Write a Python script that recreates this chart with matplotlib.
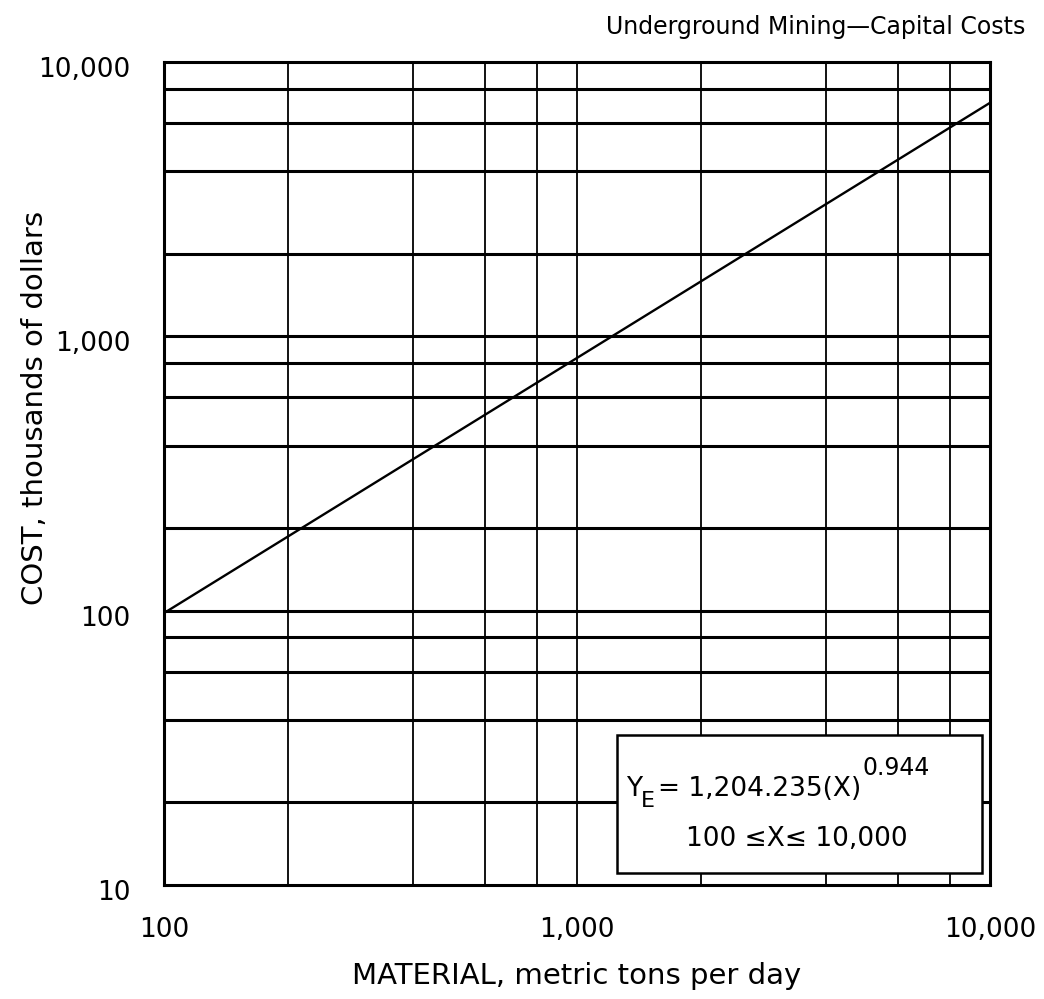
import matplotlib
matplotlib.use('Agg')
import matplotlib.pyplot as plt
import matplotlib.transforms as mtransforms
from matplotlib.ticker import FixedLocator, FixedFormatter, NullFormatter
from matplotlib.patches import Rectangle

# ---- data ----
title = "Underground Mining\u2014Capital Costs"
x_label = "MATERIAL, metric tons per day"
y_label = "COST, thousands of dollars"
x_ticks = [100, 1000, 10000]
x_tick_labels = ["100", "1,000", "10,000"]
y_ticks = [10, 100, 1000, 10000]
y_tick_labels = ["10", "100", "1,000", "10,000"]
x_grid = [200, 400, 600, 800, 1000, 2000, 4000, 6000, 8000]
y_grid = [20, 40, 60, 80, 100, 200, 400, 600, 800, 1000, 2000, 4000, 6000, 8000]
line_x = [100, 10000]
line_y = [98, 7100]
eq_lhs = "Y"
eq_sub = "E"
eq_rhs = "= 1,204.235(X)"
eq_exp = "0.944"
range_text = "100 \u2264X\u2264 10,000"

plt.rcParams['font.family'] = ['DejaVu Sans']

W, H = 1044, 999
fig = plt.figure(figsize=(W / 100, H / 100), dpi=100)
L, R, T, B = 164, 990, 62, 885
ax = fig.add_axes([L / W, 1 - B / H, (R - L) / W, (B - T) / H])
ax.set_xscale('log')
ax.set_yscale('log')
ax.set_xlim(100, 10000)
ax.set_ylim(10, 10000)

ax.xaxis.set_major_locator(FixedLocator(x_ticks))
ax.xaxis.set_major_formatter(FixedFormatter(x_tick_labels))
ax.xaxis.set_minor_locator(FixedLocator(x_grid))
ax.xaxis.set_minor_formatter(NullFormatter())
ax.yaxis.set_major_locator(FixedLocator(y_ticks))
ax.yaxis.set_major_formatter(FixedFormatter(y_tick_labels))
ax.yaxis.set_minor_locator(FixedLocator(y_grid))
ax.yaxis.set_minor_formatter(NullFormatter())
ax.tick_params(which='both', length=0)
ax.tick_params(axis='x', pad=23, labelsize=19)
ax.tick_params(axis='y', pad=24, labelsize=19)

for v in x_grid:
    ax.axvline(v, color='black', lw=1.3, zorder=1)
for v in y_grid:
    ax.axhline(v, color='black', lw=2.2, zorder=1)
for s in ax.spines.values():
    s.set_linewidth(2.2)
    s.set_zorder(5)

ax.plot(line_x, line_y, color='black', lw=1.7, zorder=2)

# equation box
bx0 = (617 - L) / (R - L)
bx1 = (982 - L) / (R - L)
by0 = (B - 873) / (B - T)
by1 = (B - 735) / (B - T)
ax.add_patch(Rectangle((bx0, by0), bx1 - bx0, by1 - by0, transform=ax.transAxes,
                       facecolor='white', edgecolor='black', lw=1.8, zorder=3))

t_y = ax.text((626 - L) / (R - L), (B - 796) / (B - T), eq_lhs, fontsize=19,
              ha='left', va='baseline', transform=ax.transAxes, zorder=4)
t_e = ax.annotate(eq_sub, xy=(1, 0), xycoords=t_y, xytext=(-1, -5),
                  textcoords='offset pixels', fontsize=16, ha='left', va='baseline', zorder=4)
t_m = ax.annotate(eq_rhs, xy=(1, 0), xycoords=t_e, xytext=(3, 15),
                  textcoords='offset pixels', fontsize=19, ha='left', va='baseline', zorder=4)
t_s = ax.annotate(eq_exp, xy=(1, 1), xycoords=t_m, xytext=(1, 1),
                  textcoords='offset pixels', fontsize=17, ha='left', va='baseline', zorder=4)
ax.text((797 - L) / (R - L), (B - 839) / (B - T), range_text, fontsize=19,
        ha='center', va='center', transform=ax.transAxes, zorder=4)

# labels
ax.set_xlabel(x_label, fontsize=21)
ax.xaxis.set_label_coords(0.5, (B - 976) / (B - T))
ax.xaxis.label.set_va('center')
ax.set_ylabel(y_label, fontsize=21)
ax.yaxis.set_label_coords((35 - L) / (R - L), (B - 408) / (B - T))
ax.yaxis.label.set_va('center')
ax.yaxis.label.set_ha('center')

# y tick labels sit slightly below their gridlines in the reference
off = mtransforms.ScaledTranslation(0, -0.05, fig.dpi_scale_trans)
for lab in ax.get_yticklabels():
    lab.set_transform(lab.get_transform() + off)

fig.text(1025 / W, 1 - 27 / H, title, fontsize=17, ha='right', va='center')

fig.savefig('out.png', dpi=100)
